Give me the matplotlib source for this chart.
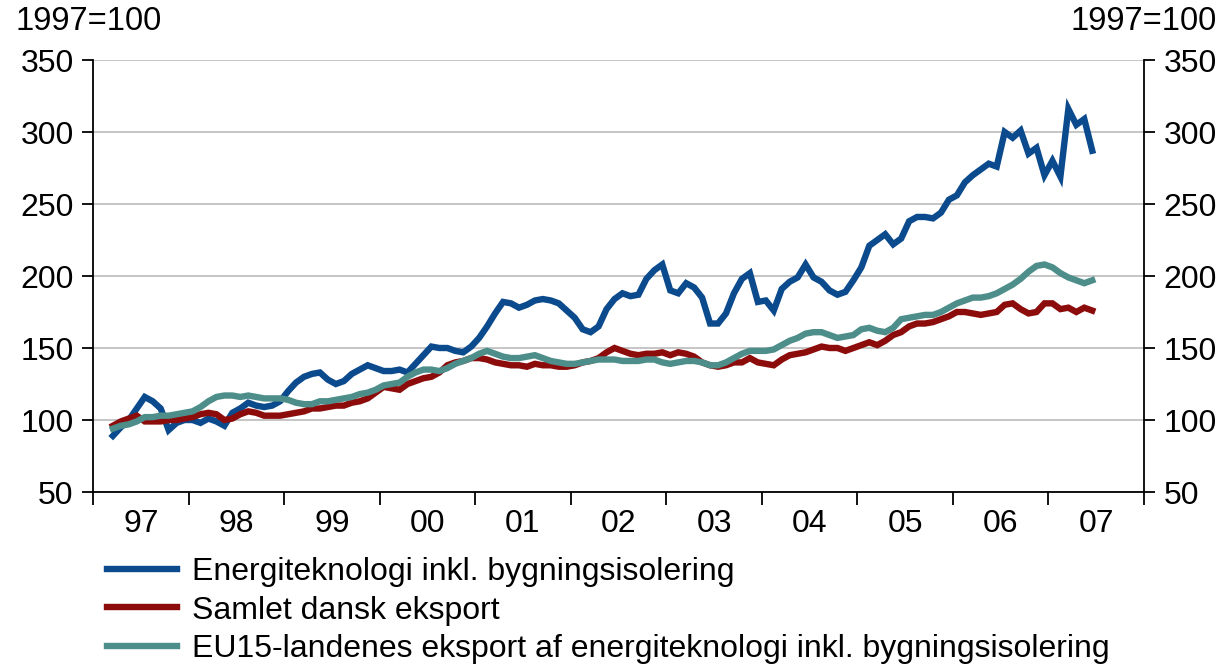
import matplotlib
matplotlib.use("Agg")
import matplotlib.pyplot as plt
import numpy as np

plt.rcParams['font.family'] = ['Liberation Sans', 'DejaVu Sans']

# Monthly series, March 1997 .. June 2007 (1997=100)
energi = [89, 95, 100, 108, 116, 113, 108, 93, 98, 100,
          100, 98, 101, 99, 96, 105, 108, 112, 110, 109, 110, 113,
          120, 126, 130, 132, 133, 128, 125, 127, 132, 135, 138, 136,
          134, 134, 135, 133, 139, 145, 151, 150, 150, 148, 147, 151,
          157, 165, 174, 182, 181, 178, 180, 183, 184, 183, 181, 176,
          171, 163, 161, 165, 177, 184, 188, 186, 187, 198, 204, 208,
          190, 188, 195, 192, 185, 167, 167, 174, 188, 198, 202, 182,
          183, 176, 191, 196, 199, 208, 199, 196, 190, 187, 189, 197,
          206, 221, 225, 229, 222, 226, 238, 241, 241, 240, 244, 253,
          256, 265, 270, 274, 278, 276, 300, 296, 301, 285, 289, 270,
          280, 269, 316, 305, 309, 287]
samlet = [96, 99, 101, 103, 99, 99, 99, 100, 100, 101,
          102, 104, 105, 104, 100, 101, 104, 106, 105, 103, 103, 103,
          104, 105, 106, 108, 108, 109, 110, 110, 112, 113, 115, 119,
          123, 122, 121, 125, 127, 129, 130, 133, 138, 140, 141, 143,
          143, 142, 140, 139, 138, 138, 137, 139, 138, 138, 137, 137,
          138, 140, 141, 143, 147, 150, 148, 146, 145, 146, 146, 147,
          145, 147, 146, 144, 140, 138, 137, 138, 140, 140, 143, 140,
          139, 138, 142, 145, 146, 147, 149, 151, 150, 150, 148, 150,
          152, 154, 152, 155, 159, 161, 165, 167, 167, 168, 170, 172,
          175, 175, 174, 173, 174, 175, 180, 181, 177, 174, 175, 181,
          181, 177, 178, 175, 178, 176]
eu15 = [94, 96, 97, 99, 102, 102, 103, 103, 104, 105,
        106, 109, 113, 116, 117, 117, 116, 117, 116, 115, 115, 115,
        114, 112, 111, 111, 113, 113, 114, 115, 116, 118, 119, 121,
        124, 125, 126, 130, 133, 135, 135, 134, 136, 139, 141, 143,
        146, 148, 146, 144, 143, 143, 144, 145, 143, 141, 140, 139,
        139, 140, 141, 142, 142, 142, 141, 141, 141, 142, 142, 140,
        139, 140, 141, 141, 140, 138, 138, 140, 143, 146, 148, 148,
        148, 149, 152, 155, 157, 160, 161, 161, 159, 157, 158, 159,
        163, 164, 162, 161, 164, 170, 171, 172, 173, 173, 175, 178,
        181, 183, 185, 185, 186, 188, 191, 194, 198, 203, 207, 208,
        206, 202, 199, 197, 195, 197]

year_labels = ["97", "98", "99", "00", "01", "02", "03", "04", "05", "06", "07"]
series_names = ["Energiteknologi inkl. bygningsisolering",
                "Samlet dansk eksport",
                "EU15-landenes eksport af energiteknologi inkl. bygningsisolering"]
colors = ["#0b4a8c", "#8c0c0c", "#4e8e8a"]

start_month = 2  # March 1997
x = np.arange(len(energi)) + start_month + 0.5

fig = plt.figure(figsize=(12.25, 6.68), dpi=100)
ax = fig.add_axes([93/1225, 1-492/668, (1144-93)/1225, (492-60)/668])

lines = []
for vals, c, name in zip([energi, samlet, eu15], colors, series_names):
    ln, = ax.plot(x, vals, color=c, lw=4.6, label=name, solid_joinstyle='miter')
    lines.append(ln)

ax.set_xlim(0, 12 * len(year_labels))
ax.set_ylim(50, 350)
ax.set_yticks(np.arange(50, 351, 50))
ax.grid(axis='y', color='#c0c0c0', lw=1.3)
ax.set_axisbelow(True)

ax.set_xticks(np.arange(0, 12 * len(year_labels) + 1, 12))
ax.set_xticklabels([])
ax.set_xticks(np.arange(6, 12 * len(year_labels), 12), minor=True)
ax.set_xticklabels(year_labels, minor=True)
ax.tick_params(axis='x', which='major', direction='out', length=9, width=1.3)
ax.tick_params(axis='x', which='minor', length=0, pad=12, labelsize=23)
ax.tick_params(axis='y', which='major', direction='out', length=8, width=1.3,
               labelsize=23, right=True, labelright=True, pad=6)

ax.spines['top'].set_visible(False)
for s in ['left', 'right', 'bottom']:
    ax.spines[s].set_linewidth(1.3)
    ax.spines[s].set_color('black')

fig.text(15/1225, 1-22/668, "1997=100", fontsize=23.5, ha='left', va='center')
fig.text(1217/1225, 1-22/668, "1997=100", fontsize=23.5, ha='right', va='center')

leg = fig.legend(handles=lines, loc='upper left', bbox_to_anchor=(107/1225, 1-557/668),
                 frameon=False, fontsize=23, handlelength=2.2, handletextpad=0.45,
                 labelspacing=0.27, borderaxespad=0, borderpad=0)

fig.savefig("out.png", dpi=100)
